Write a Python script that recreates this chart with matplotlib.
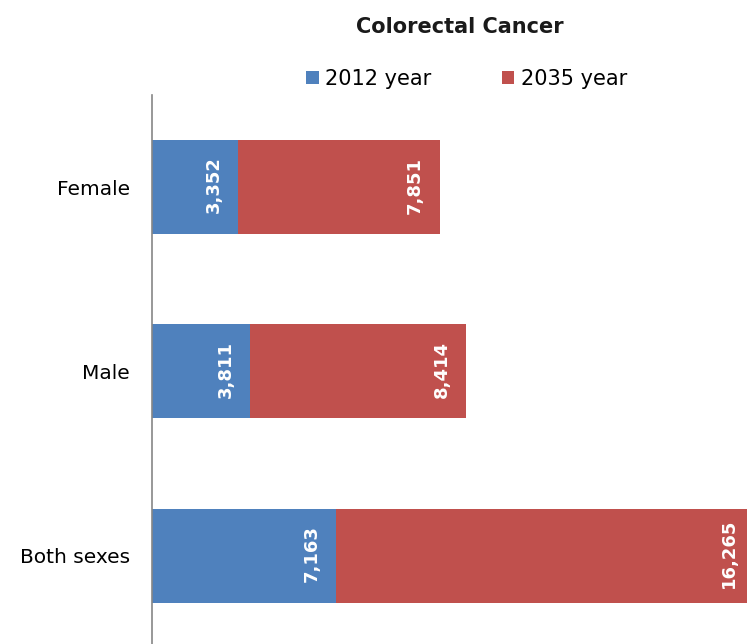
import matplotlib.pyplot as plt

categories = ['Female', 'Male', 'Both sexes']
year_2012 = [3352, 3811, 7163]
year_2035 = [7851, 8414, 16265]
series_labels = ['2012 year', '2035 year']

blue = '#4F81BD'
red = '#C0504D'

fig = plt.figure(figsize=(7.47, 6.44), dpi=100)
ax = fig.add_axes([0.2041, -0.006, 0.8575, 0.8585])

y = list(range(len(categories)))
b1 = ax.barh(y, year_2012, height=0.51, color=blue, label=series_labels[0])
b2 = ax.barh(y, year_2035, left=year_2012, height=0.51, color=red, label=series_labels[1])

ax.set_xlim(0, 25000)
ax.set_ylim(-0.5, 2.5)
ax.invert_yaxis()
ax.set_yticks(y)
ax.set_yticklabels(categories, fontsize=14.5)
ax.tick_params(axis='y', length=0, pad=16)
ax.set_xticks([])

for s in ['top', 'right', 'bottom']:
    ax.spines[s].set_visible(False)
ax.spines['left'].set_color('#868686')
ax.spines['left'].set_linewidth(1.2)

# value labels sit at the inside end of each segment
for i in y:
    end1 = year_2012[i]
    end2 = year_2012[i] + year_2035[i]
    ax.annotate(f'{year_2012[i]:,}', (end1, i), xytext=(-11, 1.5), textcoords='offset points',
                rotation=90, ha='right', va='center', color='white', fontsize=13, fontweight='bold')
    ax.annotate(f'{year_2035[i]:,}', (end2, i), xytext=(-11, 1.5), textcoords='offset points',
                rotation=90, ha='right', va='center', color='white', fontsize=13, fontweight='bold')

fig.text(0.616, 0.958, 'Colorectal Cancer', ha='center', va='center',
         fontsize=15, fontweight='bold', color='#1a1a1a')
fig.legend(handles=[b1, b2], labels=series_labels, loc='center', ncol=2,
           bbox_to_anchor=(0.6245, 0.878), frameon=False, fontsize=15,
           handlelength=0.6, handleheight=0.6, handletextpad=0.3, columnspacing=3.4)

fig.savefig('out.png', dpi=100)
